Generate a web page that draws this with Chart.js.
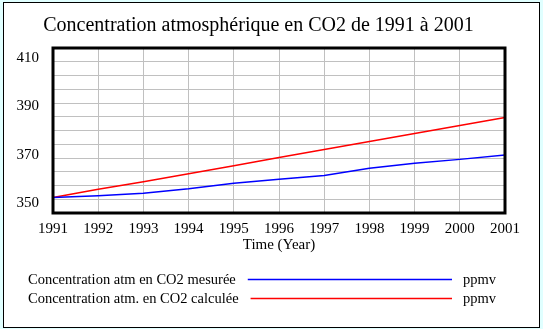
<!DOCTYPE html>
<html>
<head>
<meta charset="utf-8">
<script src="https://cdn.jsdelivr.net/npm/chart.js@4.4.0/dist/chart.umd.min.js"></script>
<style>
    html, body { margin: 0; padding: 0; background: #e0ffff; }
</style>
</head>
<body>
<canvas id="myChart" width="543" height="329"></canvas>
<script>
// Global font settings:
const FONT = '"Liberation Serif", "Times New Roman", serif';
Chart.defaults.font.family = FONT;
Chart.defaults.color = '#000';

// Data
const YEARS = ['1991', '1992', '1993', '1994', '1995', '1996', '1997', '1998', '1999', '2000', '2001'];
const CO2_MEASURED = [355.6, 356.3, 357.2, 358.8, 360.8, 362.3, 363.6, 366.3, 368.1, 369.5, 371.1];
const CO2_CALCULATED = [355.6, 358.6, 361.4, 364.3, 367.2, 370.2, 373.1, 376.0, 378.9, 381.8, 384.7];
const Y_TICK_LABELS = [350, 370, 390, 410];
const SERIES_LABELS = ['Concentration atm en CO2 mesurée', 'Concentration atm. en CO2 calculée'];
const UNITS = 'ppmv';
const TITLE = 'Concentration atmosphérique en CO2 de 1991 à 2001';

const COLORS = {
    PAGE: '#e0ffff',
    GRID: '#c0c0c0',
    BLUE: '#0000ff',
    RED: '#ff0000'
};

// background box, plot frame and the legend rows under the chart
const framePlugin = {
    id: 'frame',
    beforeDraw(chart) {
        const ctx = chart.ctx;
        ctx.save();
        ctx.fillStyle = COLORS.PAGE;
        ctx.fillRect(0, 0, chart.width, chart.height);
        ctx.fillStyle = '#fff';
        ctx.fillRect(3, 2, 537, 326);
        ctx.strokeStyle = '#000';
        ctx.lineWidth = 1;
        ctx.strokeRect(3.5, 2.5, 536, 325);
        ctx.restore();
    },
    afterDraw(chart) {
        const ctx = chart.ctx;
        const { left, top, right, bottom } = chart.chartArea;
        ctx.save();
        ctx.strokeStyle = '#000';
        ctx.lineWidth = 3;
        ctx.strokeRect(left, top, right - left, bottom - top);

        ctx.font = '14.5px ' + FONT;
        ctx.textBaseline = 'middle';
        ctx.fillStyle = '#000';
        const rows = [280, 299];
        chart.data.datasets.forEach((ds, i) => {
            const y = rows[i];
            ctx.textAlign = 'left';
            ctx.fillText(ds.label, 28, y);
            const w = ctx.measureText(ds.label).width;
            ctx.beginPath();
            ctx.strokeStyle = ds.borderColor;
            ctx.lineWidth = 1.5;
            ctx.moveTo(28 + w + 12, y - 0.5);
            ctx.lineTo(452, y - 0.5);
            ctx.stroke();
            ctx.fillText(UNITS, 463, y);
        });
        ctx.restore();
    }
};

new Chart(document.getElementById('myChart'), {
    type: 'line',
    data: {
        labels: YEARS,
        datasets: [{
            label: SERIES_LABELS[0],
            data: CO2_MEASURED,
            borderColor: COLORS.BLUE,
            borderWidth: 1.5,
            pointRadius: 0,
            yAxisID: 'y'
        }, {
            label: SERIES_LABELS[1],
            data: CO2_CALCULATED,
            borderColor: COLORS.RED,
            borderWidth: 1.5,
            pointRadius: 0,
            yAxisID: 'y'
        }]
    },
    options: {
        responsive: false,
        animation: false,
        layout: {
            padding: { left: 12, right: 38, top: 0, bottom: 71 }
        },
        scales: {
            x: {
                offset: false,
                grid: { color: COLORS.GRID, drawTicks: false },
                border: { display: false },
                ticks: { font: { size: 15 }, padding: 7, maxRotation: 0, autoSkip: false },
                title: { display: true, text: 'Time (Year)', font: { size: 15 }, padding: { top: 0, bottom: 4 } },
                afterFit(scale) {
                    scale.paddingLeft = 0;
                    scale.paddingRight = 0;
                    scale.height = 45;
                }
            },
            y: {
                position: 'left',
                min: 350,
                max: 410,
                grid: { color: COLORS.GRID, drawTicks: false },
                border: { display: false },
                ticks: { stepSize: 5, display: false },
                afterFit(scale) {
                    scale.width = 0;
                    scale.paddingTop = 0;
                    scale.paddingBottom = 0;
                }
            },
            // label axis: the tick labels sit evenly in a slightly shorter band, as in the original
            yLab: {
                position: 'left',
                min: 345.86,
                max: 414.14,
                grid: { display: false, drawTicks: false },
                border: { display: false },
                ticks: { font: { size: 15 }, padding: 14 },
                afterBuildTicks(scale) {
                    scale.ticks = Y_TICK_LABELS.map(v => ({ value: v }));
                },
                afterFit(scale) {
                    scale.width = 41;
                    scale.paddingTop = 0;
                    scale.paddingBottom = 0;
                }
            }
        },
        plugins: {
            legend: { display: false },
            tooltip: { enabled: false },
            title: {
                display: true,
                text: TITLE,
                color: '#000',
                font: { size: 20, weight: 'normal' },
                padding: { top: 14, bottom: 10 }
            }
        }
    },
    plugins: [framePlugin]
});
</script>
</body>
</html>
